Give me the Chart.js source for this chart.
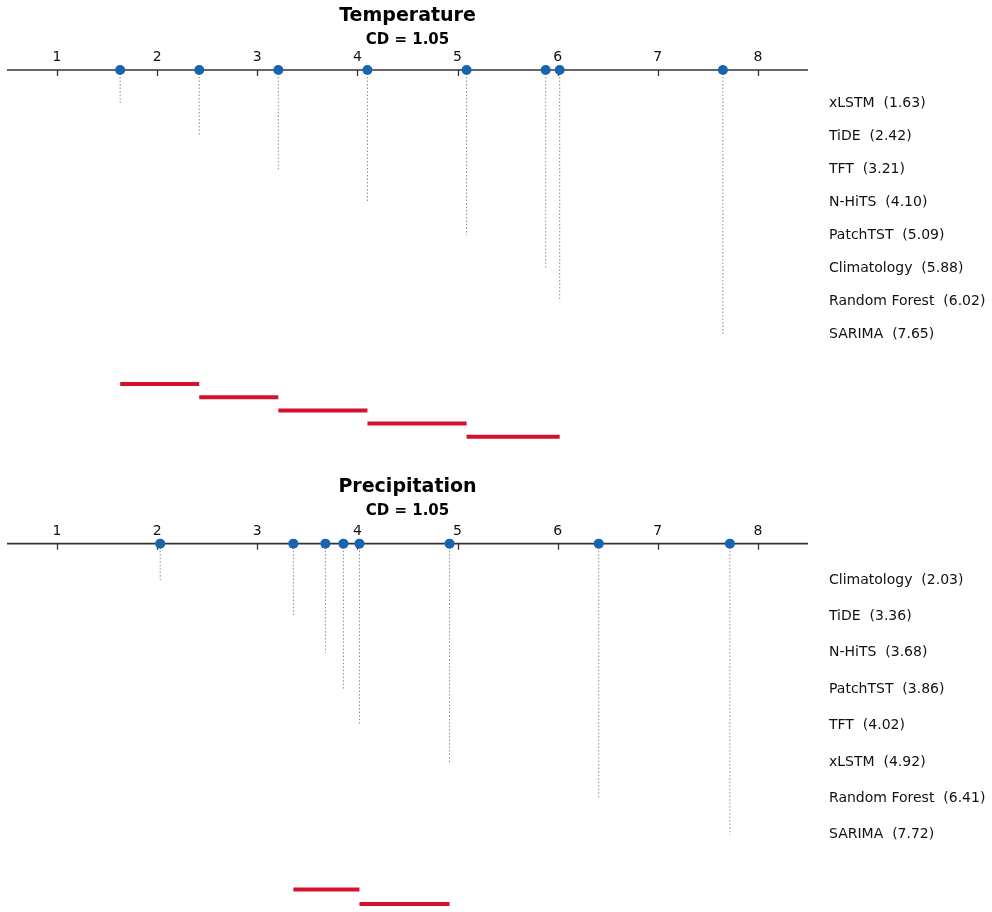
<!DOCTYPE html>
<html>
<head>
<meta charset="utf-8">
<script src="https://cdn.jsdelivr.net/npm/chart.js@4.4.1/dist/chart.umd.min.js"></script>
<style>
  html, body { margin: 0; padding: 0; background: #ffffff; }
  .panel { position: absolute; left: 0; width: 992px; height: 456px; }
</style>
</head>
<body>
<div class="panel" style="top:0"><canvas id="c1" width="992" height="456"></canvas></div>
<div class="panel" style="top:456px"><canvas id="c2" width="992" height="456"></canvas></div>
<script>
// ---- data ----
const tickValues = [1, 2, 3, 4, 5, 6, 7, 8];
const tickLabels = ['1', '2', '3', '4', '5', '6', '7', '8'];

const tempTitle = 'Temperature';
const tempCD = 1.05;
const tempModels = ['xLSTM', 'TiDE', 'TFT', 'N-HiTS', 'PatchTST', 'Climatology', 'Random Forest', 'SARIMA'];
const tempRanks = [1.63, 2.42, 3.21, 4.10, 5.09, 5.88, 6.02, 7.65];
const tempCliqueStart = [1.63, 2.42, 3.21, 4.10, 5.09];
const tempCliqueEnd = [2.42, 3.21, 4.10, 5.09, 6.02];

const precTitle = 'Precipitation';
const precCD = 1.05;
const precModels = ['Climatology', 'TiDE', 'N-HiTS', 'PatchTST', 'TFT', 'xLSTM', 'Random Forest', 'SARIMA'];
const precRanks = [2.03, 3.36, 3.68, 3.86, 4.02, 4.92, 6.41, 7.72];
const precCliqueStart = [3.36, 4.02];
const precCliqueEnd = [4.02, 4.92];

// ---- style ----
const FONT = "'DejaVu Sans', 'Liberation Sans', sans-serif";
const DOT = '#1565b0';
const RED = '#d2122e';
const AXIS = '#333333';

const cdPlugin = {
  id: 'cdAxis',
  beforeDatasetsDraw(chart) {
    const x = chart.scales.x, y = chart.scales.y, ctx = chart.ctx;
    const y0 = y.getPixelForValue(0);
    ctx.save();
    ctx.strokeStyle = AXIS;
    ctx.lineWidth = 1.3;
    tickValues.forEach((v, i) => {
      const px = Math.round(x.getPixelForValue(v)) + 0.5;
      ctx.beginPath();
      ctx.moveTo(px, y0);
      ctx.lineTo(px, y0 + 6);
      ctx.stroke();
      ctx.fillStyle = '#111';
      ctx.font = '14px ' + FONT;
      ctx.textAlign = 'center';
      ctx.textBaseline = 'middle';
      ctx.fillText(tickLabels[i], x.getPixelForValue(v), y0 - 12.5);
    });
    ctx.restore();
  },
  afterDatasetsDraw(chart, args, opts) {
    const y = chart.scales.y, ctx = chart.ctx;
    ctx.save();
    ctx.fillStyle = '#111';
    ctx.font = '14px ' + FONT;
    ctx.textAlign = 'left';
    ctx.textBaseline = 'middle';
    opts.models.forEach((m, i) => {
      ctx.fillText(m + '  (' + opts.ranks[i].toFixed(2) + ')', chart.chartArea.right + 21, y.getPixelForValue(i + 1));
    });
    ctx.restore();
  }
};

function makeChart(id, title, cd, models, ranks, cStart, cEnd, yMin, yMax, padTop, padBottom) {
  const datasets = [];
  datasets.push({
    type: 'scatter', order: 0,
    data: ranks.map(r => ({ x: r, y: 0 })),
    pointRadius: 5, pointHoverRadius: 5,
    backgroundColor: DOT, borderWidth: 0
  });
  datasets.push({
    type: 'line', order: 1,
    data: [{ x: 0.5, y: 0 }, { x: 8.5, y: 0 }],
    borderColor: AXIS, borderWidth: 1.6, pointRadius: 0
  });
  ranks.forEach((r, i) => {
    datasets.push({
      type: 'line', order: 2,
      data: [{ x: r, y: 0 }, { x: r, y: i + 1 }],
      borderColor: '#8a8a8a', borderWidth: 1, borderDash: [1.5, 2],
      pointRadius: 0
    });
  });
  cStart.forEach((s, i) => {
    const yb = 9.5 + 0.4 * i;
    datasets.push({
      type: 'line', order: 2,
      data: [{ x: s, y: yb }, { x: cEnd[i], y: yb }],
      borderColor: RED, borderWidth: 4, borderCapStyle: 'butt',
      pointRadius: 0
    });
  });
  return new Chart(document.getElementById(id), {
    type: 'scatter',
    data: { datasets },
    options: {
      responsive: false,
      animation: false,
      clip: false,
      layout: { padding: { left: 7, right: 184, top: padTop, bottom: padBottom } },
      scales: {
        x: { type: 'linear', min: 0.5, max: 8.5, display: false },
        y: { type: 'linear', min: yMin, max: yMax, reverse: true, display: false }
      },
      plugins: {
        legend: { display: false },
        tooltip: { enabled: false },
        title: {
          display: true, text: title, color: '#000',
          font: { family: FONT, size: 19, weight: 'bold', lineHeight: 1.2 },
          padding: { top: 5, bottom: 2 }
        },
        subtitle: {
          display: true, text: 'CD = ' + cd.toFixed(2), color: '#000',
          font: { family: FONT, size: 15, weight: 'bold', lineHeight: 1.2 },
          padding: { top: 1.2, bottom: 0 }
        },
        cdAxis: { models, ranks }
      }
    },
    plugins: [cdPlugin]
  });
}

makeChart('c1', tempTitle, tempCD, tempModels, tempRanks, tempCliqueStart, tempCliqueEnd, -0.635, 11.499, 0, 6);
makeChart('c2', precTitle, precCD, precModels, precRanks, precCliqueStart, precCliqueEnd, -0.650, 9.984, 15, 0);
</script>
</body>
</html>
